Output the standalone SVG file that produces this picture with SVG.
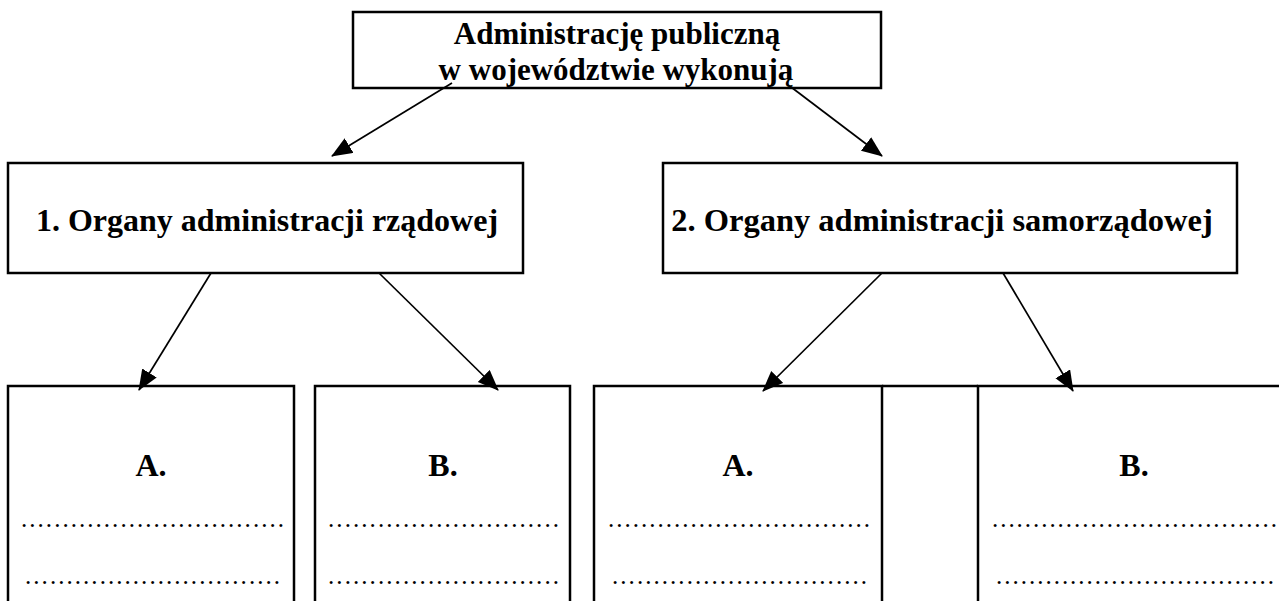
<svg xmlns="http://www.w3.org/2000/svg" width="1279" height="601" viewBox="0 0 1279 601">
<style>
.box{fill:none;stroke:#000;stroke-width:2.5}
.t{font-family:"Liberation Serif","Times New Roman",serif;font-weight:bold;fill:#000}
.d{font-family:"Liberation Serif","Times New Roman",serif;font-size:25px;fill:#000}
.c{stroke:#000;stroke-width:1.7;fill:none}
</style>
<defs>
<marker id="ah" markerUnits="userSpaceOnUse" markerWidth="22" markerHeight="18" refX="20" refY="8.5" orient="auto">
<path d="M0,0 L21,8.5 L0,17 z" fill="#000"/>
</marker>
</defs>
<rect width="1279" height="601" fill="#fff"/>
<g id="top">
<rect class="box" x="353" y="12" width="528" height="76"/>
<text class="t" x="617" y="44" font-size="31" text-anchor="middle">Administrację publiczną</text>
<text class="t" x="616" y="80" font-size="31" text-anchor="middle">w województwie wykonują</text>
</g>
<g id="gov">
<rect class="box" x="8" y="163" width="515" height="110"/>
<text class="t" x="267" y="231" font-size="32" text-anchor="middle">1. Organy administracji rządowej</text>
</g>
<g id="self">
<rect class="box" x="663" y="163" width="574" height="110"/>
<text class="t" x="942" y="231" font-size="32.5" text-anchor="middle">2. Organy administracji samorządowej</text>
</g>
<g id="govA">
<rect class="box" x="8" y="386" width="286" height="240"/>
<text class="t" x="151" y="476" font-size="32" text-anchor="middle">A.</text>
<text class="d" x="21" y="527" textLength="263" lengthAdjust="spacing">................................</text>
<text class="d" x="25" y="584" textLength="255" lengthAdjust="spacing">...............................</text>
</g>
<g id="govB">
<rect class="box" x="315" y="386" width="255" height="240"/>
<text class="t" x="443" y="476" font-size="32" text-anchor="middle">B.</text>
<text class="d" x="328" y="527" textLength="231" lengthAdjust="spacing">............................</text>
<text class="d" x="328" y="584" textLength="231" lengthAdjust="spacing">............................</text>
</g>
<g id="selfA">
<rect class="box" x="594" y="386" width="288" height="240"/>
<text class="t" x="738" y="476" font-size="32" text-anchor="middle">A.</text>
<text class="d" x="608" y="527" textLength="262" lengthAdjust="spacing">................................</text>
<text class="d" x="612" y="584" textLength="255" lengthAdjust="spacing">...............................</text>
</g>
<g id="selfB">
<line class="box" x1="882" y1="386" x2="978" y2="386"/>
<rect class="box" x="978" y="386" width="320" height="240"/>
<text class="t" x="1134" y="476" font-size="32" text-anchor="middle">B.</text>
<text class="d" x="992" y="527" textLength="285" lengthAdjust="spacing">...................................</text>
<text class="d" x="996" y="584" textLength="278" lengthAdjust="spacing">..................................</text>
</g>
<g id="connectors">
<line class="c" x1="452" y1="83" x2="332" y2="156" marker-end="url(#ah)"/>
<line class="c" x1="791" y1="87" x2="882" y2="156" marker-end="url(#ah)"/>
<line class="c" x1="211" y1="273" x2="139" y2="390" marker-end="url(#ah)"/>
<line class="c" x1="379" y1="273" x2="498" y2="390" marker-end="url(#ah)"/>
<line class="c" x1="882" y1="273" x2="763" y2="391" marker-end="url(#ah)"/>
<line class="c" x1="1003" y1="273" x2="1073" y2="391" marker-end="url(#ah)"/>
</g>
</svg>
